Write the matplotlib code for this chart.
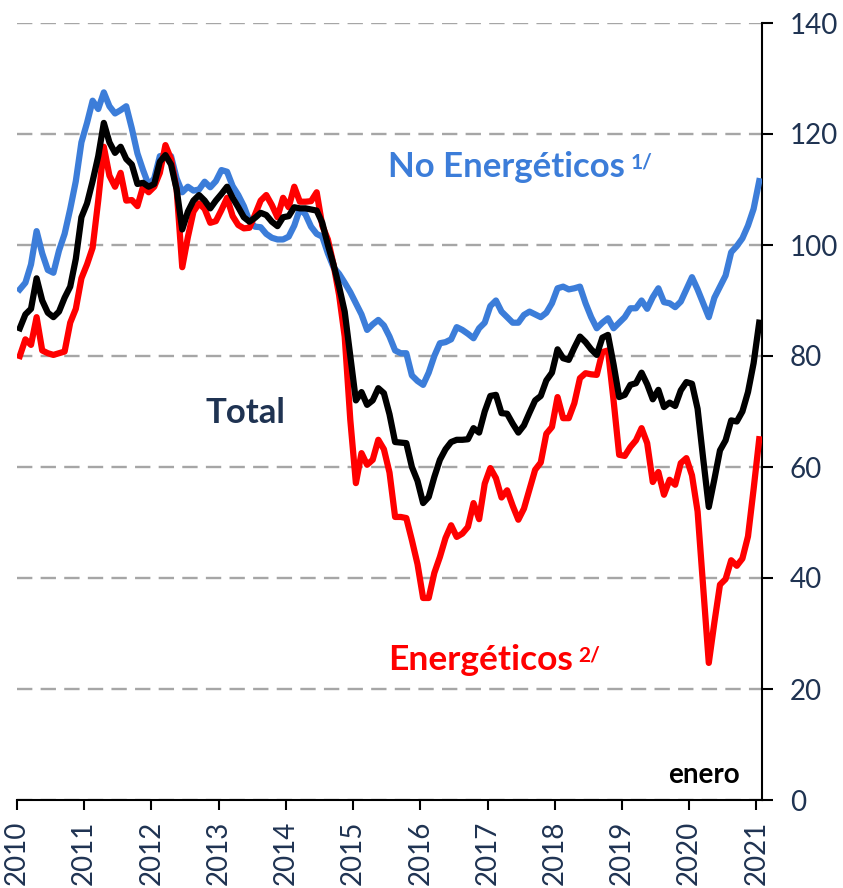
import numpy as np
import matplotlib
matplotlib.use("Agg")
import matplotlib.pyplot as plt

# Indices de precios de materias primas, mensual ene-2010 a ene-2021
years = ["2010", "2011", "2012", "2013", "2014", "2015",
         "2016", "2017", "2018", "2019", "2020", "2021"]

no_energeticos = [
    92, 93.2, 96.5, 102.5, 98.5, 95.5, 95, 99, 102, 106.5, 111.5, 118.5,
    122, 126, 124.5, 127.5, 125, 123.7, 124.3, 125, 121, 116.5, 113.5, 110.8,
    112, 116, 116.2, 116, 112, 109.5, 110.5, 109.8, 110, 111.4, 110.4, 111.5,
    113.5, 113.2, 110.6, 109, 107, 104.3, 103.3, 103.2, 102, 101.3, 101, 101,
    101.5, 103.5, 106.5, 105.5, 103.3, 102, 101.5, 98.5, 96, 94.8, 93.2, 91.5,
    89.5, 87.5, 84.7, 85.7, 86.5, 85.5, 83.5, 81, 80.5, 80.5, 76.5, 75.5,
    74.8, 77, 80, 82.3, 82.5, 83, 85.2, 84.7, 84, 83.2, 85, 86,
    89, 90, 88, 87, 86, 86, 87.4, 88, 87.5, 87, 87.8, 89.5,
    92.2, 92.5, 92, 92.2, 92.5, 89.5, 87, 85, 86, 86.8, 85, 86,
    87, 88.6, 88.6, 90, 88.5, 90.6, 92.2, 89.7, 89.5, 88.8, 89.8, 92,
    94.2, 92, 89.5, 87, 90.5, 92.5, 94.5, 98.7, 99.8, 101.2, 103.5, 106.5,
    111.5,
]

total = [
    85, 87.5, 88.5, 94, 90, 87.8, 87, 88, 90.5, 92.5, 97.5, 105,
    107.5, 111.5, 116, 122, 118.5, 116.6, 117.7, 115.5, 114.5, 111, 111.2, 110.5,
    111, 115, 116.2, 114.5, 110, 102.8, 106, 108, 109, 108, 106.6, 108,
    109.2, 110.5, 108.5, 106.8, 105, 104.2, 104.9, 105.8, 105.4, 104.2, 103.4, 105,
    105.2, 106.8, 106.6, 106.6, 106.4, 106.2, 104, 100, 96.5, 92.5, 88, 80,
    72, 73.5, 71.2, 72, 74.2, 73.3, 69.5, 64.5, 64.4, 64.3, 60, 57.5,
    53.5, 54.6, 58.2, 61.3, 63.2, 64.5, 64.9, 64.9, 65, 67, 66.2, 70,
    72.8, 73, 69.7, 69.6, 67.8, 66.2, 67.5, 69.8, 72, 72.8, 75.6, 77,
    81.2, 79.6, 79.3, 81.5, 83.5, 82.5, 81.2, 80.2, 83.3, 83.8, 78.5, 72.6,
    73, 74.8, 75.1, 77, 74.9, 72.2, 73.9, 70.8, 71.6, 71, 73.8, 75.3,
    75, 70.5, 61.5, 52.8, 57.8, 63, 64.8, 68.4, 68.2, 70, 73.5, 78.7,
    86,
]

energeticos = [
    80, 83, 82, 87, 81, 80.5, 80.2, 80.5, 80.8, 86, 88.5, 94,
    96.5, 99.5, 108, 117.7, 112.5, 110.5, 113, 108, 108.1, 107, 110.5, 109.5,
    110.5, 113, 118, 115.5, 110, 96, 101.4, 106, 107.5, 106.5, 104, 104.3,
    106.3, 108.5, 105.2, 103.6, 103, 103.1, 105.5, 108, 109, 107.2, 105, 108.5,
    106.8, 110.5, 107.8, 107.8, 107.9, 109.5, 103.5, 101, 96.5, 91, 83.5, 68.5,
    57.1, 62.5, 60.4, 61.3, 64.9, 63.2, 59, 51, 51, 50.8, 46.8, 42.5,
    36.4, 36.4, 40.9, 43.8, 47.2, 49.5, 47.4, 48, 49.2, 53.5, 50.6, 57,
    59.8, 58, 54.5, 55.8, 53, 50.5, 52.5, 56, 59.5, 60.8, 66, 67.2,
    72.6, 68.8, 68.8, 71.5, 76, 76.9, 76.7, 76.6, 80.7, 81, 72, 62.2,
    62, 63.6, 64.8, 67, 64.3, 57.3, 59.1, 55, 57.7, 56.8, 60.7, 61.6,
    58.5, 52, 38.4, 24.7, 32, 38.8, 39.8, 43.2, 42.2, 43.5, 47.5, 56,
    65,
]

blue = "#3C7DD9"
navy = "#1F3352"

plt.rcParams["font.family"] = ["Lato", "DejaVu Sans"]

fig = plt.figure(figsize=(8.43, 8.88), dpi=100)
ax = fig.add_axes([17 / 843, 88 / 888, 745 / 843, 777 / 888])

meses = np.arange(len(total))
ax.plot(meses, no_energeticos, color=blue, lw=4.5, solid_joinstyle="round", zorder=3)
ax.plot(meses, energeticos, color="#FF0000", lw=4.5, solid_joinstyle="round", zorder=4)
ax.plot(meses, total, color="black", lw=4.5, solid_joinstyle="round", zorder=5)

ax.set_xlim(-0.5, len(total) - 0.5)
ax.set_ylim(0, 140)
ax.set_xticks(np.arange(-0.5, len(total), 12))
ax.set_xticklabels(years, rotation=90, fontsize=20, color=navy)
ax.set_yticks(np.arange(0, 141, 20))
ax.tick_params(axis="y", labelsize=20, labelcolor=navy, length=8, width=1.5,
               direction="out", pad=12)
ax.tick_params(axis="x", length=7, width=1.5, direction="out", pad=8)
ax.yaxis.tick_right()

ax.yaxis.grid(True, linestyle=(0, (6.5, 3.5)), color="#A6A6A6", linewidth=1.7)
ax.set_axisbelow(True)

for s in ["top", "left"]:
    ax.spines[s].set_visible(False)
for s in ["bottom", "right"]:
    ax.spines[s].set_linewidth(1.5)

# Etiquetas de las series
t1 = ax.text(65.7, 114, "No Energéticos", color=blue, fontsize=25,
             fontweight="bold", va="center", ha="left")
ax.annotate("1/", xy=(1, 1), xycoords=t1, xytext=(4, -1),
            textcoords="offset points", color=blue, fontsize=15,
            fontweight="bold", va="top", ha="left")
ax.text(33.1, 69.7, "Total", color=navy, fontsize=25, fontweight="bold",
        va="center", ha="left")
t2 = ax.text(65.7, 25.2, "Energéticos", color="#FF0000", fontsize=25.5,
             fontweight="bold", va="center", ha="left")
ax.annotate("2/", xy=(1, 1), xycoords=t2, xytext=(4, -1),
            textcoords="offset points", color="#FF0000", fontsize=15,
            fontweight="bold", va="top", ha="left")
ax.text(115.7, 4.5, "enero", color="black", fontsize=20, fontweight="bold",
        va="center", ha="left")

fig.savefig("out.png", dpi=100)
